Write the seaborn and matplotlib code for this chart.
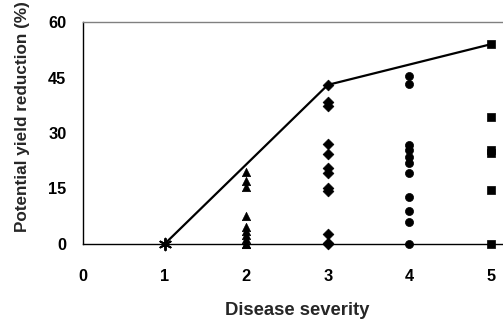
import matplotlib
matplotlib.use("Agg")
import matplotlib.pyplot as plt
import seaborn as sns
import pandas as pd

# Data
sev1 = [0.0]
sev2 = [19.5, 17.0, 15.5, 7.5, 4.7, 3.6, 2.4, 1.3, 0.0, 0.0]
sev3 = [43.0, 38.3, 37.2, 27.0, 24.2, 20.6, 19.3, 15.2, 14.3, 2.7, 0.4, 0.0]
sev4 = [45.5, 43.3, 26.8, 25.3, 23.6, 22.0, 19.2, 12.8, 9.0, 6.0, 0.0]
sev5 = [54.0, 34.2, 25.5, 24.6, 14.5, 0.0]

line_x = [1, 3, 5]
line_y = [0.0, 43.0, 54.0]

x_ticks = [0, 1, 2, 3, 4, 5]
y_ticks = [0, 15, 30, 45, 60]

rows = []
for sev, vals, grp in [(2, sev2, "s2"), (3, sev3, "s3"), (4, sev4, "s4"), (5, sev5, "s5")]:
    for v in vals:
        rows.append({"severity": sev, "reduction": v, "group": grp})
df = pd.DataFrame(rows)
df_line = pd.DataFrame({"severity": line_x, "reduction": line_y})
df_ast = pd.DataFrame({"severity": [1] * len(sev1), "reduction": sev1})

sns.set_style("white")
plt.rcParams["font.family"] = ["Liberation Sans", "DejaVu Sans"]
plt.rcParams["font.weight"] = "bold"

fig = plt.figure(figsize=(5.03, 3.25), dpi=100)
W, H = 503, 325
left, right, top, bottom = 83, 503, 22, 244
ax = fig.add_axes([left / W, (H - bottom) / H, (right - left) / W, (bottom - top) / H])

sns.lineplot(data=df_line, x="severity", y="reduction", color="black",
             linewidth=1.6, ax=ax, clip_on=False)

markers = {"s2": "^", "s3": "D", "s4": "o", "s5": "s"}
sizes_map = {"s2": 36, "s3": 30, "s4": 34, "s5": 34}
for grp, m in markers.items():
    sub = df[df["group"] == grp]
    sns.scatterplot(data=sub, x="severity", y="reduction", marker=m,
                    color="black", edgecolor="black", s=sizes_map[grp],
                    linewidth=0.5, ax=ax, clip_on=False, zorder=3)

sns.scatterplot(data=df_ast, x="severity", y="reduction", marker=(6, 2, 0),
                color="black", s=70, linewidth=1.4, ax=ax, clip_on=False, zorder=3)

ax.set_xlim(0, (right - left) / 81.6)
ax.set_ylim(0, 60)
ax.set_xticks(x_ticks)
ax.set_yticks(y_ticks)
ax.set_xticklabels([str(t) for t in x_ticks], fontsize=11.8, fontweight="bold")
ax.set_yticklabels([str(t) for t in y_ticks], fontsize=11.8, fontweight="bold")

ax.tick_params(axis="y", direction="inout", length=8, width=1, pad=8, colors="black")
ax.tick_params(axis="x", direction="out", length=4, width=1, pad=14, colors="black")

for s in ["left", "bottom"]:
    ax.spines[s].set_color("black")
    ax.spines[s].set_linewidth(1.0)
ax.spines["top"].set_color("#808080")
ax.spines["top"].set_linewidth(1.0)
ax.spines["right"].set_visible(False)

ax.set_xlabel("Disease severity", fontsize=13.3, fontweight="bold")
ax.set_ylabel("Potential yield reduction (%)", fontsize=12.3, fontweight="bold")
ax.xaxis.set_label_coords(0.51, -0.262)
ax.yaxis.set_label_coords(-0.125, 0.572)

fig.savefig("out.png", dpi=100)
